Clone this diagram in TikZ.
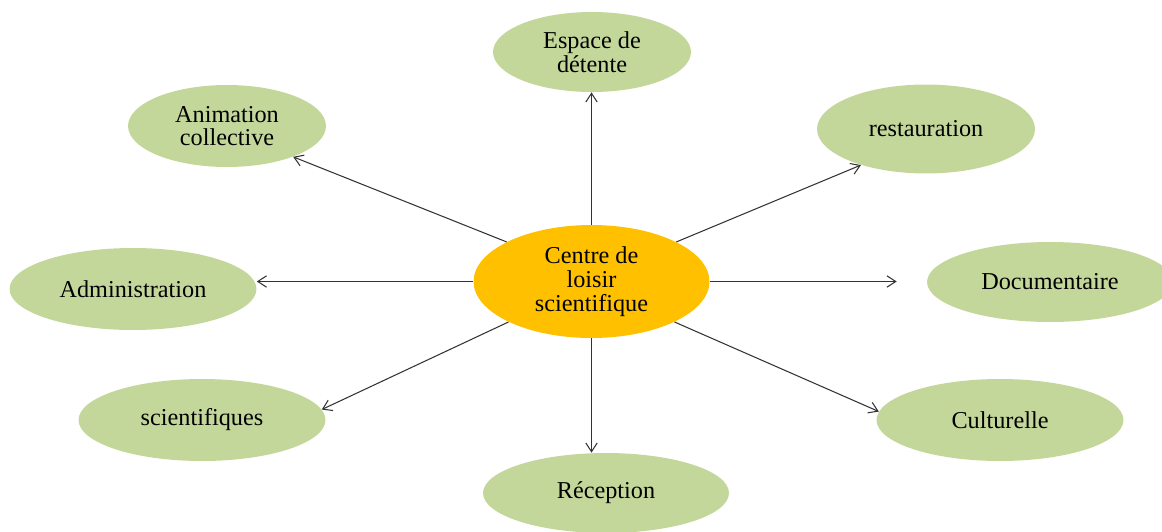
\documentclass[tikz,border=0pt]{standalone}
\usepackage{fontspec}
\setmainfont{Liberation Serif}
\usetikzlibrary{arrows.meta,shapes.geometric,positioning}
\definecolor{leafgreen}{HTML}{C4D79B}
\definecolor{hubgold}{HTML}{FFC000}

\begin{document}
\begin{tikzpicture}[x=0.02cm, y=-0.02cm, >={Straight Barb[length=5pt,width=6.5pt]},
    leaf/.style={ellipse, fill=leafgreen, inner sep=0pt, align=center, font=\fontsize{13.8}{13.5}\selectfont},
    hub/.style={ellipse, fill=hubgold, inner sep=0pt, align=center, font=\fontsize{13.8}{13.5}\selectfont},
    link/.style={->, line width=0.6pt, draw=black!80}]
        \useasboundingbox (0,0) rectangle (1162,531);
        \node [hub, minimum width=4.72cm, minimum height=2.26cm] (centre) at (591.5,281.5) {Centre de\\loisir\\scientifique};
        \node [leaf, minimum width=3.96cm, minimum height=1.6cm] (espace) at (592,52) {Espace de\\détente};
        \node [leaf, minimum width=3.96cm, minimum height=1.64cm] (anim) at (227,126) {Animation\\collective};
        \node [leaf, minimum width=4.36cm, minimum height=1.78cm] (resto) at (926,129) {restauration};
        \node [leaf, minimum width=4.94cm, minimum height=1.64cm] (admin) at (133,289) {Administration};
        \node [leaf, minimum width=4.92cm, minimum height=1.6cm] (docu) at (1050,282) {Documentaire};
        \node [leaf, minimum width=4.94cm, minimum height=1.64cm] (scient) at (202,420) {scientifiques};
        \node [leaf, minimum width=4.94cm, minimum height=1.64cm] (cult) at (1000,420) {Culturelle};
        \node [leaf, minimum width=4.92cm, minimum height=1.6cm] (recep) at (606,493) {Réception};
        
        \draw[link] (centre.north) -- (centre.north |- espace.south);
        \draw[link] (centre.155) -- (anim.335);
        \draw[link] (centre.25) -- (resto.209);
        \draw[link] (centre.west) -- (centre.west -| admin.east);
        \draw[link, shorten >=0.6cm] (centre.east) -- (centre.east -| docu.west);
        \draw[link] (centre.206) -- (scient.5);
        \draw[link] (centre.334) -- (cult.176);
        \draw[link] (centre.south) -- (centre.south |- recep.north);
    \end{tikzpicture}
\end{document}
